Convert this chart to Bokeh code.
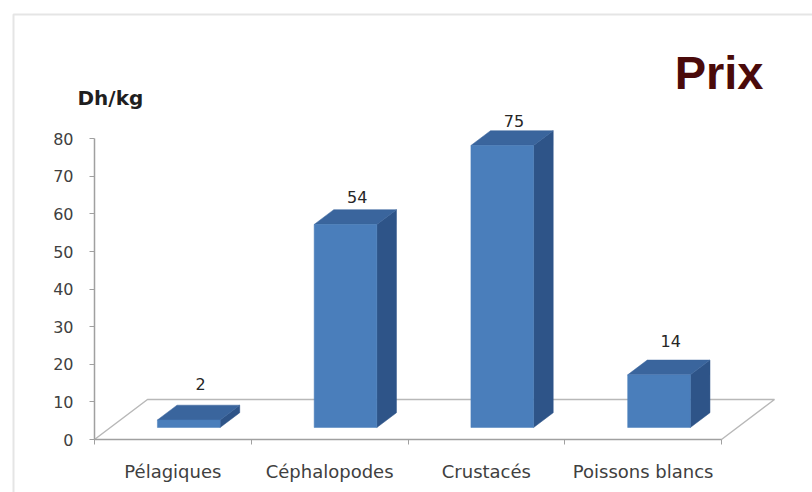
from bokeh.plotting import figure
from bokeh.models import Range1d, FixedTicker, Label, BoxAnnotation, ColumnDataSource
from bokeh.core.properties import value
from bokeh.embed import file_html
from bokeh.resources import INLINE

# Prix moyen par groupe d'espèces (Dh/kg)
categories = ["Pélagiques", "Céphalopodes", "Crustacés", "Poissons blancs"]
prices = [2, 54, 75, 14]
value_ticks = [0, 10, 20, 30, 40, 50, 60, 70, 80]

# Oblique projection of the 3-D floor, in data units
FLOOR_DX = 0.338        # how far the floor recedes to the right (categories)
FLOOR_DY = 10.64        # how far it recedes upward (Dh/kg)
BAR_Z0, BAR_Z1 = 0.30, 0.67   # front / back of the columns, share of floor depth
BAR_W = 0.40
LABEL_LIFT = 12.8       # value labels float above the column tops
LABEL_SCALE = 0.957     # and shrink slightly with depth

FRONT = "#4a7ebb"
TOP = "#3a659d"
SIDE = "#2e5488"
AXIS_GREY = "#a0a0a0"
FLOOR_GREY = "#b8b8b8"

n = len(categories)
W, H = 812, 492
# plot frame covers almost the whole canvas; the axes are pinned at x=0 / y=0
FRAME_L, FRAME_T = 10, 11
ORIGIN_X, ORIGIN_Y = 94, 439      # pixel position of the axes' origin
px_per_cat = 156.75
px_per_unit = 3.76

x0 = -(ORIGIN_X - FRAME_L) / px_per_cat
y0 = -(H - ORIGIN_Y) / px_per_unit


def sx(px):
    """pixel column -> data x"""
    return x0 + (px - FRAME_L) / px_per_cat


def sy(py):
    """pixel row -> data y"""
    return (ORIGIN_Y - py) / px_per_unit


p = figure(width=W, height=H, output_backend="svg", toolbar_location=None,
           x_range=Range1d(x0, x0 + (W - FRAME_L) / px_per_cat),
           y_range=Range1d(y0, y0 + (H - FRAME_T) / px_per_unit),
           min_border_left=FRAME_L, min_border_right=0,
           min_border_top=FRAME_T, min_border_bottom=0)
p.outline_line_color = None
p.background_fill_color = "white"
p.border_fill_color = "white"
p.xgrid.visible = False
p.ygrid.visible = False

# outer frame of the chart area (right and bottom edges run off the page)
p.add_layout(BoxAnnotation(left=sx(13), right=sx(W + 40),
                           top=sy(14), bottom=sy(H + 40),
                           fill_alpha=0, line_color="#a8a8a8", line_width=2))

# floor of the 3-D plot (its front edge is the category axis)
p.line(x=[0, FLOOR_DX, n + FLOOR_DX, n], y=[0, FLOOR_DY, FLOOR_DY, 0],
       line_color=FLOOR_GREY, line_width=1.5)

ddx = (BAR_Z1 - BAR_Z0) * FLOOR_DX
ddy = (BAR_Z1 - BAR_Z0) * FLOOR_DY
front_xs, front_ys, top_xs, top_ys, side_xs, side_ys = [], [], [], [], [], []
lab_x, lab_y, lab_t = [], [], []
for i, v in enumerate(prices):
    c = i + 0.5 + BAR_Z0 * FLOOR_DX
    xl, xr = c - BAR_W / 2, c + BAR_W / 2
    yb = BAR_Z0 * FLOOR_DY
    yt = yb + v
    front_xs.append([xl, xr, xr, xl]); front_ys.append([yb, yb, yt, yt])
    top_xs.append([xl, xr, xr + ddx, xl + ddx]); top_ys.append([yt, yt, yt + ddy, yt + ddy])
    side_xs.append([xr, xr + ddx, xr + ddx, xr]); side_ys.append([yb, yb + ddy, yt + ddy, yt])
    lab_x.append(c + ddx * 0.6)
    lab_y.append(LABEL_LIFT + v * LABEL_SCALE)
    lab_t.append(str(v))

p.patches(side_xs, side_ys, fill_color=SIDE, line_color=SIDE, line_width=0.5)
p.patches(top_xs, top_ys, fill_color=TOP, line_color=TOP, line_width=0.5)
p.patches(front_xs, front_ys, fill_color=FRONT, line_color=FRONT, line_width=0.5)

labels = ColumnDataSource(dict(x=lab_x, y=lab_y, text=lab_t))
p.text(x="x", y="y", text="text", source=labels, text_align="center",
       text_baseline="alphabetic", text_font=value("DejaVu Sans"),
       text_font_size="16px", text_color="#262626")

# value axis
p.yaxis.fixed_location = 0
p.yaxis.ticker = FixedTicker(ticks=value_ticks)
p.yaxis.bounds = (0, value_ticks[-1])
p.yaxis.axis_line_color = AXIS_GREY
p.yaxis.axis_line_width = 1.5
p.yaxis.major_tick_line_color = AXIS_GREY
p.yaxis.major_tick_out = 5
p.yaxis.major_tick_in = 0
p.yaxis.minor_tick_line_color = None
p.yaxis.major_label_standoff = 16
p.yaxis.major_label_text_font = "DejaVu Sans"
p.yaxis.major_label_text_font_size = "16px"
p.yaxis.major_label_text_color = "#404040"

# category axis
centres = [i + 0.5 for i in range(n)]
p.xaxis.fixed_location = 0
p.xaxis.ticker = FixedTicker(ticks=centres, minor_ticks=list(range(n + 1)))
p.xaxis.major_label_overrides = {c: name for c, name in zip(centres, categories)}
p.xaxis.bounds = (0, n)
p.xaxis.axis_line_color = AXIS_GREY
p.xaxis.axis_line_width = 1.5
p.xaxis.major_tick_out = 0
p.xaxis.major_tick_in = 0
p.xaxis.minor_tick_line_color = AXIS_GREY
p.xaxis.minor_tick_out = 5
p.xaxis.minor_tick_in = 0
p.xaxis.major_label_standoff = 16
p.xaxis.major_label_text_font = "DejaVu Sans"
p.xaxis.major_label_text_font_size = "18px"
p.xaxis.major_label_text_color = "#404040"

# unit and title
p.add_layout(Label(x=sx(77), y=sy(97), text="Dh/kg",
                   text_font="DejaVu Sans", text_font_style="bold",
                   text_font_size="20px", text_color="#1f1f1f",
                   text_baseline="alphabetic"))
p.add_layout(Label(x=sx(763), y=sy(72), text="Prix",
                   text_font="Liberation Sans", text_font_style="bold",
                   text_font_size="47px", text_color="#4a0a0a",
                   text_align="right", text_baseline="alphabetic"))

open("out.html", "w").write(file_html(p, INLINE))
